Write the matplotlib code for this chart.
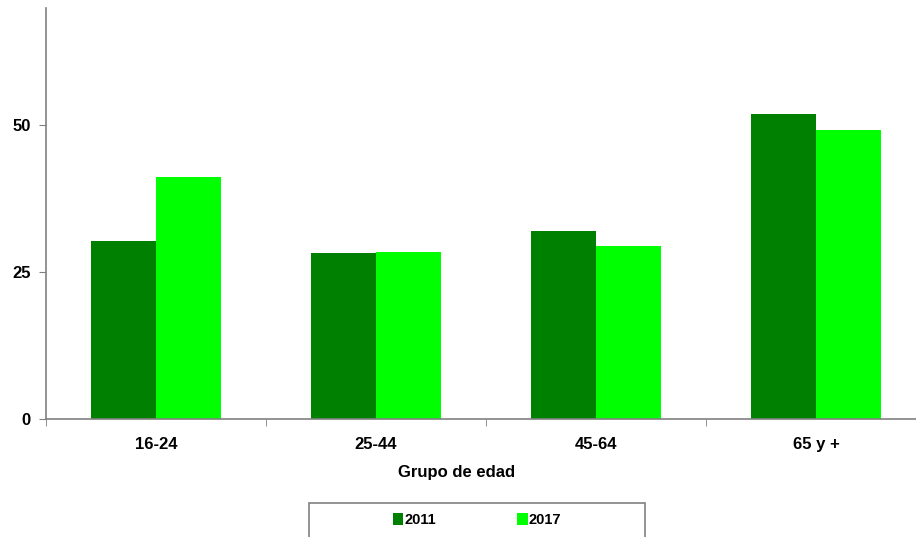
import matplotlib.pyplot as plt
from matplotlib.patches import Rectangle
import numpy as np

plt.rcParams['font.family'] = ['Liberation Sans', 'DejaVu Sans']

grupos = ['16-24', '25-44', '45-64', '65 y +']
valores_2011 = [30.3, 28.2, 32.0, 51.9]
valores_2017 = [41.2, 28.4, 29.4, 49.3]
yticks = [0, 25, 50]

W, H = 916, 537
fig = plt.figure(figsize=(W / 100, H / 100), dpi=100)
# axes runs past the right edge, like the reference
ax = fig.add_axes([46 / W, 1 - 419 / H, 880 / W, 411 / H])

x = np.arange(len(grupos))
w = 0.295
ax.bar(x - w / 2, valores_2011, w, color='#008000', label='2011', zorder=2)
ax.bar(x + w / 2, valores_2017, w, color='#00ff00', label='2017', zorder=2)

ax.set_xlim(-0.5, 3.5)
ax.set_ylim(0, 70)

for s in ['top', 'right']:
    ax.spines[s].set_visible(False)
for s in ['left', 'bottom']:
    ax.spines[s].set_color('#808080')
    ax.spines[s].set_linewidth(1.2)

ax.set_yticks(yticks)
ax.set_yticklabels([str(v) for v in yticks], fontsize=12, fontweight='bold')
ax.tick_params(axis='y', direction='out', length=5, color='#808080', pad=6)

ax.set_xticks(x)
ax.set_xticklabels(grupos, fontsize=12, fontweight='bold')
ax.set_xticks(np.arange(-0.5, 4.0, 1.0), minor=True)
ax.tick_params(axis='x', which='major', length=0, pad=13)
ax.tick_params(axis='x', which='minor', direction='out', length=5, color='#808080')
ax.set_xlabel('Grupo de edad', fontsize=12, fontweight='bold', labelpad=9)
ax.xaxis.set_label_coords(411 / 880, -46 / 411)

# legend box, cut by the bottom edge
fig.patches.append(Rectangle((309 / W, -0.05), 336 / W, 0.05 + (537 - 503) / H,
                             transform=fig.transFigure, fill=False,
                             edgecolor='#808080', linewidth=1.2))
fig.legend(loc='center', bbox_to_anchor=(477 / W, 1 - 520 / H), ncol=2,
           frameon=False, prop={'size': 10.5, 'weight': 'bold'},
           handlelength=0.7, handleheight=0.8, handletextpad=0.05,
           columnspacing=5.6)

fig.savefig('out.png', dpi=100)
